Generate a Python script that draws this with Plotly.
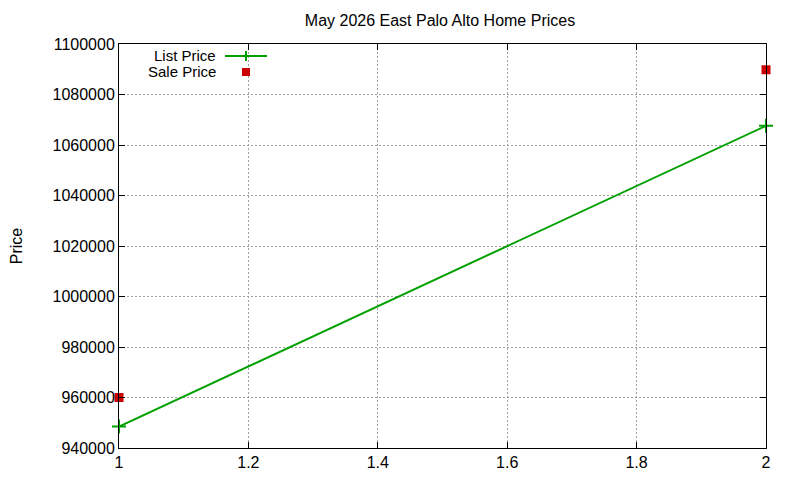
import plotly.graph_objects as go

# dados
months = [1, 2]
list_price = [948500, 1067600]
sale_price = [960000, 1089800]

x_ticks = [1, 1.2, 1.4, 1.6, 1.8, 2]
y_ticks = list(range(940000, 1100001, 20000))

GREEN = '#00a000'
RED = '#cc0000'
FONT = 'Liberation Sans, Arial, sans-serif'

# area do grafico na tela (a pagina tem margem de 8px)
PL, PR, PT, PB = 119, 766, 44, 448
OFF = 8

fig = go.Figure()

fig.add_trace(go.Scatter(
    x=months, y=list_price, mode='lines+markers', name='List Price',
    line=dict(color=GREEN, width=2),
    marker=dict(symbol='cross-thin', size=10, line=dict(color=GREEN, width=2)),
    cliponaxis=False, showlegend=False
))
fig.add_trace(go.Scatter(
    x=months, y=sale_price, mode='markers', name='Sale Price',
    marker=dict(symbol='square', size=9, color=RED),
    cliponaxis=False, showlegend=False
))

axis_common = dict(
    showline=True, linecolor='black', linewidth=1, mirror='ticks',
    ticks='inside', ticklen=6, tickcolor='black',
    showgrid=True, gridcolor='#a0a0a0', griddash='2px,2px', gridwidth=1,
    zeroline=False, automargin=False,
    tickfont=dict(size=16, color='black', family=FONT),
)

fig.update_xaxes(range=[1, 2], tickvals=x_ticks,
                 ticktext=[f'{v:g}' for v in x_ticks], **axis_common)
fig.update_yaxes(range=[940000, 1100000], tickvals=y_ticks,
                 ticktext=[str(v) for v in y_ticks], **axis_common)


def px(xs, ys):
    # pixel da tela -> coordenadas paper
    return (xs - PL) / (PR - PL), (PB - ys) / (PB - PT)


# legenda no estilo gnuplot (texto a esquerda da amostra)
for label, yy in [('List Price', 55), ('Sale Price', 72)]:
    ax, ay = px(217, yy)
    fig.add_annotation(x=ax, y=ay, xref='paper', yref='paper', text=label,
                       showarrow=False, xanchor='right', yanchor='middle',
                       borderpad=0, font=dict(size=15, family=FONT, color='black'))

x0, y0 = px(225, 56)
x1, _ = px(267, 56)
fig.add_shape(type='line', xref='paper', yref='paper', x0=x0, x1=x1, y0=y0, y1=y0,
              line=dict(color=GREEN, width=2))
cx, cy0 = px(246, 51)
_, cy1 = px(246, 61)
fig.add_shape(type='line', xref='paper', yref='paper', x0=cx, x1=cx, y0=cy0, y1=cy1,
              line=dict(color=GREEN, width=2))
sx0, sy0 = px(242, 68)
sx1, sy1 = px(250, 76)
fig.add_shape(type='rect', xref='paper', yref='paper', x0=sx0, x1=sx1, y0=sy0, y1=sy1,
              line=dict(width=0), fillcolor=RED)

fig.update_layout(
    width=800, height=480,
    margin=dict(l=PL - OFF, r=800 - PR + OFF, t=PT - OFF, b=480 - PB + OFF),
    plot_bgcolor='white', paper_bgcolor='white',
    font=dict(family=FONT, size=16, color='black'),
    title=dict(text='May 2026 East Palo Alto Home Prices', x=(440 - OFF) / 800, xanchor='center',
               y=1 - (20 - OFF) / 480, yanchor='middle', font=dict(size=16, family=FONT)),
    yaxis_title=dict(text='Price', standoff=28, font=dict(size=16, family=FONT)),
)

fig.write_html('out.html')
